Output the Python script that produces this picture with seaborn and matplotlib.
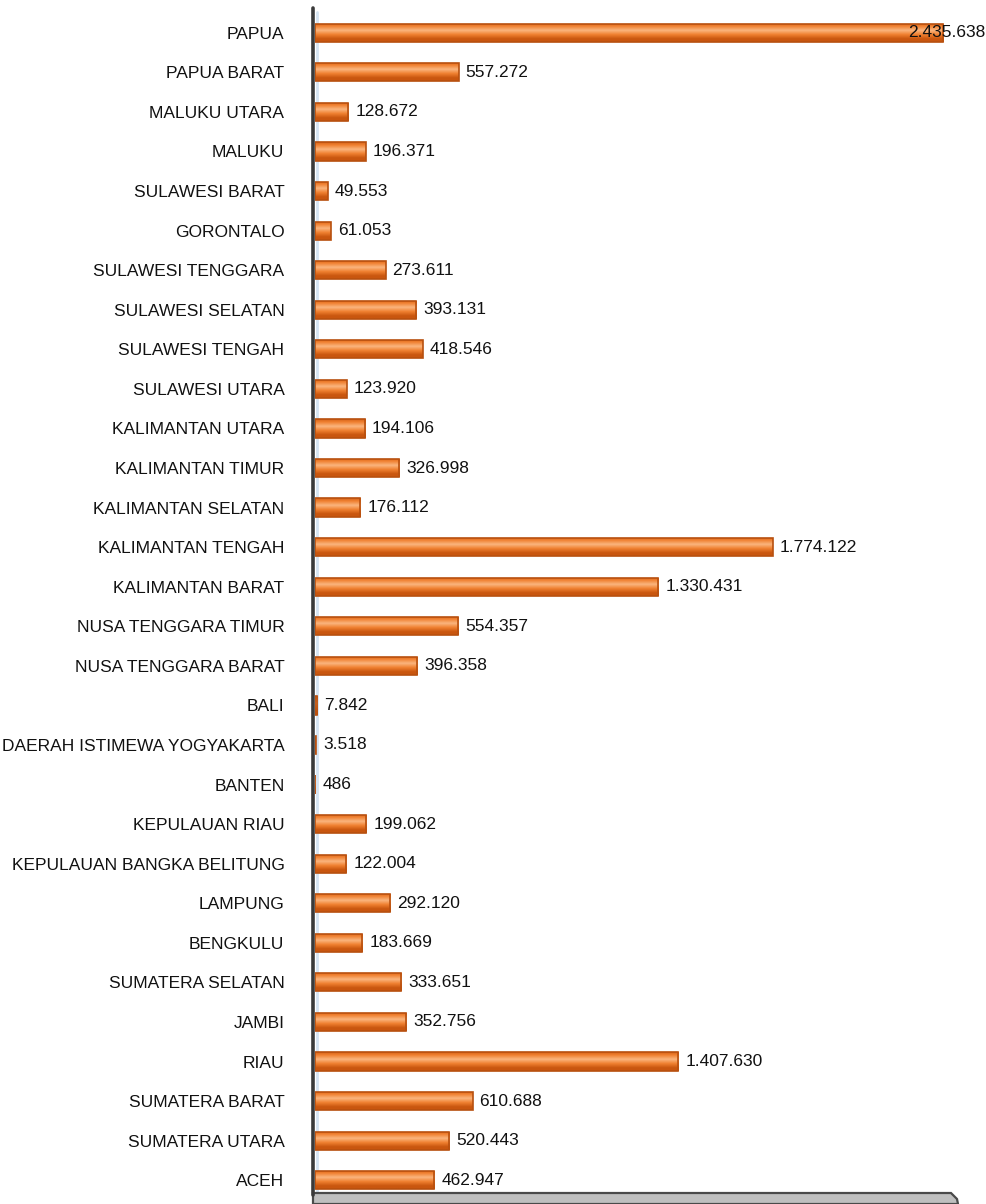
import numpy as np
import pandas as pd
import matplotlib
matplotlib.use("Agg")
import matplotlib.pyplot as plt
import seaborn as sns
from matplotlib import font_manager
from matplotlib.patches import Polygon

provinces = [
    "PAPUA", "PAPUA BARAT", "MALUKU UTARA", "MALUKU", "SULAWESI BARAT",
    "GORONTALO", "SULAWESI TENGGARA", "SULAWESI SELATAN", "SULAWESI TENGAH",
    "SULAWESI UTARA", "KALIMANTAN UTARA", "KALIMANTAN TIMUR",
    "KALIMANTAN SELATAN", "KALIMANTAN TENGAH", "KALIMANTAN BARAT",
    "NUSA TENGGARA TIMUR", "NUSA TENGGARA BARAT", "BALI",
    "DAERAH ISTIMEWA YOGYAKARTA", "BANTEN", "KEPULAUAN RIAU",
    "KEPULAUAN BANGKA BELITUNG", "LAMPUNG", "BENGKULU", "SUMATERA SELATAN",
    "JAMBI", "RIAU", "SUMATERA BARAT", "SUMATERA UTARA", "ACEH",
]
values = [
    2435638, 557272, 128672, 196371, 49553,
    61053, 273611, 393131, 418546,
    123920, 194106, 326998,
    176112, 1774122, 1330431,
    554357, 396358, 7842,
    3518, 486, 199062,
    122004, 292120, 183669, 333651,
    352756, 1407630, 610688, 520443, 462947,
]

df = pd.DataFrame({"provinsi": provinces, "nilai": values})

sns.set_theme(style="white")
names = {f.name for f in font_manager.fontManager.ttflist}
family = "Liberation Sans Narrow" if "Liberation Sans Narrow" in names else "Liberation Sans"
plt.rcParams["font.family"] = [family, "DejaVu Sans"]

W, H = 987, 1204
fig = plt.figure(figsize=(W / 100, H / 100), dpi=100)
AX_L, AX_W = 315, 645
ax = fig.add_axes([AX_L / W, 1 - 1200 / H, AX_W / W, (1200 - 13) / H])

# light wall strip behind the bars
fig.add_artist(plt.Line2D([317 / W, 317 / W], [1 - 12 / H, 1 - 1192 / H],
                          color="#D5E4F2", linewidth=2.0, zorder=0))

sns.barplot(data=df, x="nilai", y="provinsi", orient="h", width=0.46,
            color="#F58A3C", edgecolor="#B8500F", linewidth=1.2,
            saturation=1, ax=ax)

XMAX = 2500000
ax.set_xlim(0, XMAX)
ax.set_ylim(len(provinces) - 0.5, -0.5)
ax.patch.set_alpha(0)

# shaded cylinder look on each bar
grad = np.linspace(0, 1, 64)
shade = np.clip(1 - np.abs(grad - 0.38) * 2.2, 0, 1)
cmap = matplotlib.colors.LinearSegmentedColormap.from_list(
    "bar", ["#C9560F", "#F08030", "#FAB57E"])
for p in ax.patches:
    x0, y0 = p.get_x(), p.get_y()
    w, h = p.get_width(), p.get_height()
    im = ax.imshow(shade[:, None], cmap=cmap, aspect="auto",
                   extent=(x0, x0 + w, y0 + h, y0), zorder=p.get_zorder() + 0.1,
                   interpolation="bilinear", vmin=0, vmax=1)
    im.set_clip_path(p)
    p.set_zorder(p.get_zorder() + 0.2)
    p.set_facecolor("none")
ax.set_xlim(0, XMAX)
ax.set_ylim(len(provinces) - 0.5, -0.5)

ax.set_xlabel("")
ax.set_ylabel("")
ax.set_xticks([])
ax.tick_params(axis="y", length=0, pad=22, labelsize=12.5, labelcolor="#111111")
for s in ["top", "right", "bottom", "left"]:
    ax.spines[s].set_visible(False)

# vertical wall line
fig.add_artist(plt.Line2D([313.5 / W, 313.5 / W], [1 - 8 / H, 1 - 1195 / H],
                          color="#3A3A3A", linewidth=2.6))

# value labels, kept inside the figure
fig.canvas.draw()
renderer = fig.canvas.get_renderer()
for i, v in enumerate(values):
    label = f"{v:,}".replace(",", ".")
    t = ax.annotate(label, xy=(v, i), xytext=(7, 0), textcoords="offset pixels",
                    ha="left", va="center", fontsize=12.5, color="#111111",
                    zorder=10)
    bb = t.get_window_extent(renderer)
    if bb.x1 > W - 2:
        t.set_position((7 - (bb.x1 - (W - 2)), 0))

# floor of the chart
floor = Polygon([(313 / W, 1 - 1193 / H), (951 / W, 1 - 1193 / H),
                 (957 / W, 1 - 1199 / H), (958 / W, 0.0), (313 / W, 0.0)],
                closed=True, transform=fig.transFigure, facecolor="#BFBFBF",
                edgecolor="#4A4A4A", linewidth=1.6)
fig.add_artist(floor)

fig.savefig("out.png", dpi=100, facecolor="white")
